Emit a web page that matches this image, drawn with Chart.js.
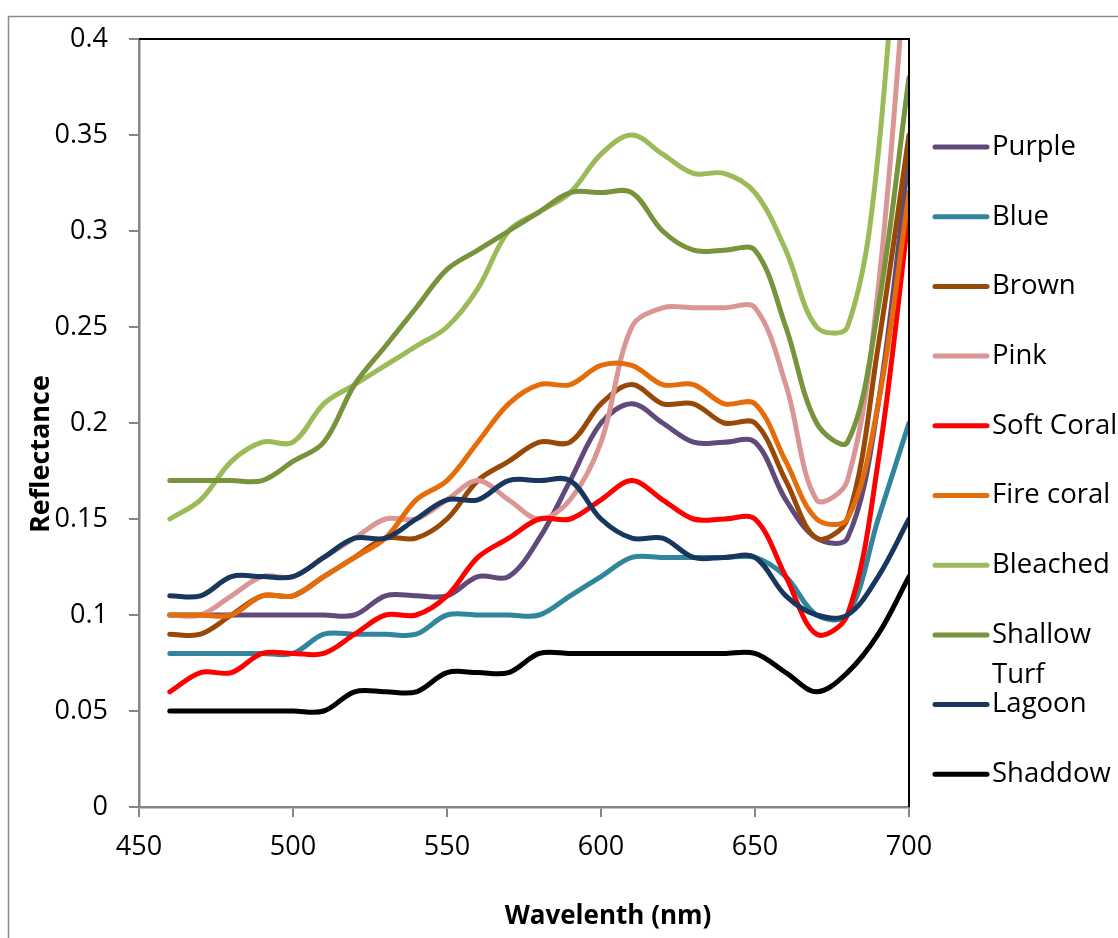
<!DOCTYPE html>
<html>
<head>
<meta charset="utf-8">
<script src="https://cdn.jsdelivr.net/npm/chart.js@4"></script>
<style>
  html, body { margin: 0; padding: 0; background: #fff; }
  canvas { display: block; }
</style>
</head>
<body>
<canvas id="grafico" width="1118" height="938"></canvas>
<script>
// ====== DADOS ======
const wavelengths = [460, 470, 480, 490, 500, 510, 520, 530, 540, 550, 560, 570, 580,
  590, 600, 610, 620, 630, 640, 650, 660, 670, 680, 690, 700];

const purple =      [0.10, 0.10, 0.10, 0.10, 0.10, 0.10, 0.10, 0.11, 0.11, 0.11, 0.12, 0.12, 0.14,
  0.17, 0.20, 0.21, 0.20, 0.19, 0.19, 0.19, 0.16, 0.14, 0.14, 0.21, 0.34];
const blue =        [0.08, 0.08, 0.08, 0.08, 0.08, 0.09, 0.09, 0.09, 0.09, 0.10, 0.10, 0.10, 0.10,
  0.11, 0.12, 0.13, 0.13, 0.13, 0.13, 0.13, 0.12, 0.10, 0.10, 0.15, 0.20];
const brown =       [0.09, 0.09, 0.10, 0.11, 0.11, 0.12, 0.13, 0.14, 0.14, 0.15, 0.17, 0.18, 0.19,
  0.19, 0.21, 0.22, 0.21, 0.21, 0.20, 0.20, 0.17, 0.14, 0.15, 0.24, 0.35];
const pink =        [0.10, 0.10, 0.11, 0.12, 0.12, 0.13, 0.14, 0.15, 0.15, 0.16, 0.17, 0.16, 0.15,
  0.16, 0.19, 0.25, 0.26, 0.26, 0.26, 0.26, 0.22, 0.16, 0.17, 0.27, 0.46];
const softCoral =   [0.06, 0.07, 0.07, 0.08, 0.08, 0.08, 0.09, 0.10, 0.10, 0.11, 0.13, 0.14, 0.15,
  0.15, 0.16, 0.17, 0.16, 0.15, 0.15, 0.15, 0.12, 0.09, 0.10, 0.18, 0.31];
const fireCoral =   [0.10, 0.10, 0.10, 0.11, 0.11, 0.12, 0.13, 0.14, 0.16, 0.17, 0.19, 0.21, 0.22,
  0.22, 0.23, 0.23, 0.22, 0.22, 0.21, 0.21, 0.18, 0.15, 0.15, 0.21, 0.32];
const bleached =    [0.15, 0.16, 0.18, 0.19, 0.19, 0.21, 0.22, 0.23, 0.24, 0.25, 0.27, 0.30, 0.31,
  0.32, 0.34, 0.35, 0.34, 0.33, 0.33, 0.32, 0.29, 0.25, 0.25, 0.34, 0.56];
const shallowTurf = [0.17, 0.17, 0.17, 0.17, 0.18, 0.19, 0.22, 0.24, 0.26, 0.28, 0.29, 0.30, 0.31,
  0.32, 0.32, 0.32, 0.30, 0.29, 0.29, 0.29, 0.25, 0.20, 0.19, 0.26, 0.38];
const lagoon =      [0.11, 0.11, 0.12, 0.12, 0.12, 0.13, 0.14, 0.14, 0.15, 0.16, 0.16, 0.17, 0.17,
  0.17, 0.15, 0.14, 0.14, 0.13, 0.13, 0.13, 0.11, 0.10, 0.10, 0.12, 0.15];
const shaddow =     [0.05, 0.05, 0.05, 0.05, 0.05, 0.05, 0.06, 0.06, 0.06, 0.07, 0.07, 0.07, 0.08,
  0.08, 0.08, 0.08, 0.08, 0.08, 0.08, 0.08, 0.07, 0.06, 0.07, 0.09, 0.12];

const nomes = ["Purple", "Blue", "Brown", "Pink", "Soft Coral", "Fire coral",
  "Bleached", "Shallow Turf", "Lagoon", "Shaddow"];
const series = [purple, blue, brown, pink, softCoral, fireCoral, bleached, shallowTurf, lagoon, shaddow];
const cores = ["#604A7B", "#31859C", "#984807", "#D99694", "#FF0000", "#E46C0A",
  "#9BBB59", "#77933C", "#17375E", "#000000"];

const FONTE = "'Open Sans', 'Noto Sans', sans-serif";
const CINZA = "#868686";

// ====== TITULOS, BORDAS E LEGENDA ======
const extras = {
  id: "extras",
  beforeDraw(chart) {
    const ctx = chart.ctx;
    ctx.save();
    ctx.strokeStyle = "#8c8c8c";
    ctx.lineWidth = 1.5;
    ctx.strokeRect(8.5, 16.5, 1200, 1000);
    ctx.restore();
  },
  afterDraw(chart) {
    const ctx = chart.ctx;
    const a = chart.chartArea;
    ctx.save();

    // borda preta de cima e da direita
    ctx.strokeStyle = "#000";
    ctx.lineWidth = 2;
    ctx.beginPath();
    ctx.moveTo(a.left, a.top);
    ctx.lineTo(a.right, a.top);
    ctx.lineTo(a.right, a.bottom);
    ctx.stroke();

    // titulos dos eixos
    ctx.fillStyle = "#000";
    ctx.font = "bold 26px " + FONTE;
    ctx.textAlign = "center";
    ctx.textBaseline = "middle";
    ctx.fillText("Wavelenth (nm)", 608, 917);
    ctx.translate(41, 454);
    ctx.rotate(-Math.PI / 2);
    ctx.font = "bold 27px " + FONTE;
    ctx.fillText("Reflectance", 0, 0);
    ctx.setTransform(1, 0, 0, 1, 0, 0);

    // legenda
    ctx.font = "27.5px " + FONTE;
    ctx.textAlign = "left";
    const larguraMax = 128;
    let y = 147;
    nomes.forEach((nome, i) => {
      ctx.strokeStyle = cores[i];
      ctx.lineWidth = 5;
      ctx.lineCap = "round";
      ctx.beginPath();
      ctx.moveTo(935, y);
      ctx.lineTo(987, y);
      ctx.stroke();

      const linhas = [];
      let atual = "";
      nome.split(" ").forEach(p => {
        const teste = atual ? atual + " " + p : p;
        if (atual && ctx.measureText(teste).width > larguraMax) {
          linhas.push(atual);
          atual = p;
        } else {
          atual = teste;
        }
      });
      linhas.push(atual);
      linhas.forEach((l, k) => ctx.fillText(l, 992, y + k * 40));
      y += 69.7;
    });
    ctx.restore();
  }
};

// ====== GRAFICO ======
Chart.defaults.font.family = FONTE;
Chart.defaults.color = "#000";

new Chart(document.getElementById("grafico"), {
  type: "line",
  data: {
    datasets: series.map((s, i) => ({
      label: nomes[i],
      data: wavelengths.map((w, k) => ({ x: w, y: s[k] })),
      borderColor: cores[i],
      backgroundColor: cores[i],
      borderWidth: 5,
      pointRadius: 0,
      tension: 0.35,
      borderCapStyle: "round",
      borderJoinStyle: "round",
      order: series.length - i,
      clip: 0
    }))
  },
  options: {
    responsive: false,
    animation: false,
    elements: { line: { capBezierPoints: false } },
    layout: { padding: { left: 0, top: 39, right: 209, bottom: 0 } },
    plugins: {
      legend: { display: false },
      tooltip: { enabled: false }
    },
    scales: {
      x: {
        type: "linear",
        min: 450,
        max: 700,
        afterFit: s => { s.height = 131; },
        border: { display: true, color: CINZA, width: 2.5 },
        grid: { drawOnChartArea: false, drawTicks: true, tickLength: 10, color: CINZA, lineWidth: 2 },
        ticks: { stepSize: 50, padding: 14, font: { size: 27 }, maxRotation: 0 }
      },
      y: {
        min: 0,
        max: 0.4,
        afterFit: s => { s.width = 139; },
        border: { display: true, color: CINZA, width: 2.5 },
        grid: { drawOnChartArea: false, drawTicks: true, tickLength: 10, color: CINZA, lineWidth: 2 },
        ticks: {
          stepSize: 0.05,
          padding: 21,
          font: { size: 27 },
          callback: v => String(Number(v.toFixed(2)))
        }
      }
    }
  },
  plugins: [extras]
});
</script>
</body>
</html>
